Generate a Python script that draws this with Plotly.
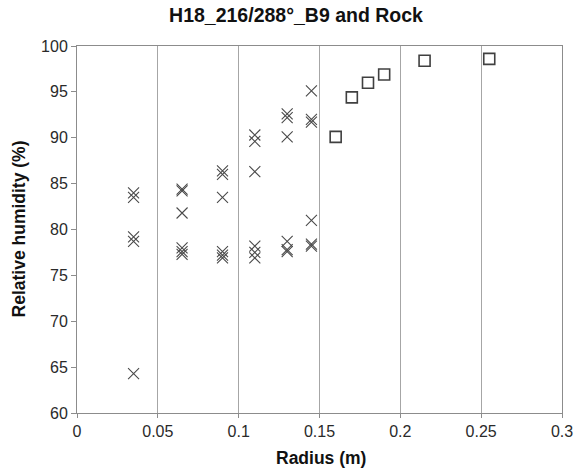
import plotly.graph_objects as go

# Borehole sensor readings (crosses) and rock readings (squares)
b9_radius = [0.035, 0.035, 0.035, 0.035, 0.035,
             0.065, 0.065, 0.065, 0.065, 0.065, 0.065,
             0.09, 0.09, 0.09, 0.09, 0.09, 0.09,
             0.11, 0.11, 0.11, 0.11, 0.11, 0.11,
             0.13, 0.13, 0.13, 0.13, 0.13, 0.13,
             0.145, 0.145, 0.145, 0.145, 0.145, 0.145]
b9_rh = [84.0, 83.5, 79.2, 78.7, 64.3,
         84.4, 84.2, 81.8, 78.0, 77.6, 77.3,
         86.4, 86.0, 83.5, 77.6, 77.2, 76.9,
         90.3, 89.6, 86.3, 78.2, 77.5, 76.9,
         92.6, 92.2, 90.1, 78.7, 77.8, 77.6,
         95.1, 92.0, 91.7, 81.0, 78.4, 78.2]

rock_radius = [0.16, 0.17, 0.18, 0.19, 0.215, 0.255]
rock_rh = [90.1, 94.4, 96.0, 96.9, 98.4, 98.6]

x_ticks = [0, 0.05, 0.1, 0.15, 0.2, 0.25, 0.3]
x_tick_text = ["0", "0.05", "0.1", "0.15", "0.2", "0.25", "0.3"]
y_ticks = [60, 65, 70, 75, 80, 85, 90, 95, 100]

fig = go.Figure()
fig.add_trace(go.Scatter(
    x=b9_radius, y=b9_rh, mode="markers", name="B9",
    marker=dict(symbol="x-thin-open", size=11, color="#4a4a4a",
                line=dict(color="#4a4a4a", width=1.1)),
))
fig.add_trace(go.Scatter(
    x=rock_radius, y=rock_rh, mode="markers", name="Rock",
    marker=dict(symbol="square-open", size=11, color="#404040",
                line=dict(color="#404040", width=1.6)),
))

font = "Liberation Sans, Arial, sans-serif"
fig.update_layout(
    width=585, height=474,
    margin=dict(l=77, r=19, t=46, b=61),
    paper_bgcolor="white", plot_bgcolor="white",
    showlegend=False,
    font=dict(family=font, size=16, color="#2a2a2a"),
    title=dict(text="<b>H18_216/288°_B9 and Rock</b>", x=296 / 585, xanchor="center",
               y=1 - 15 / 474, yanchor="middle", font=dict(size=19.5, color="#111")),
    annotations=[
        dict(text="<b>Radius (m)</b>", xref="paper", yref="paper",
             x=(323 - 77) / 489, y=-(458 - 413) / 367, xanchor="center", yanchor="middle",
             showarrow=False, font=dict(size=17.5, color="#111")),
        dict(text="<b>Relative humidity (%)</b>", xref="paper", yref="paper",
             x=-(77 - 19) / 489, y=(413 - 229) / 367, xanchor="center", yanchor="middle",
             textangle=-90, showarrow=False, font=dict(size=17.5, color="#111")),
    ],
)
fig.update_xaxes(
    range=[0, 0.3], tickvals=x_ticks, ticktext=x_tick_text,
    showgrid=True, gridcolor="#a6a6a6", gridwidth=1,
    showline=True, linecolor="#8c8c8c", linewidth=1, mirror=True,
    ticks="outside", ticklen=4, tickcolor="#8c8c8c",
    zeroline=False,
)
fig.update_yaxes(
    range=[60, 100], tickvals=y_ticks,
    showgrid=False,
    showline=True, linecolor="#8c8c8c", linewidth=1, mirror=True,
    ticks="outside", ticklen=5, tickcolor="#8c8c8c",
    zeroline=False,
)

fig.write_html("out.html")
